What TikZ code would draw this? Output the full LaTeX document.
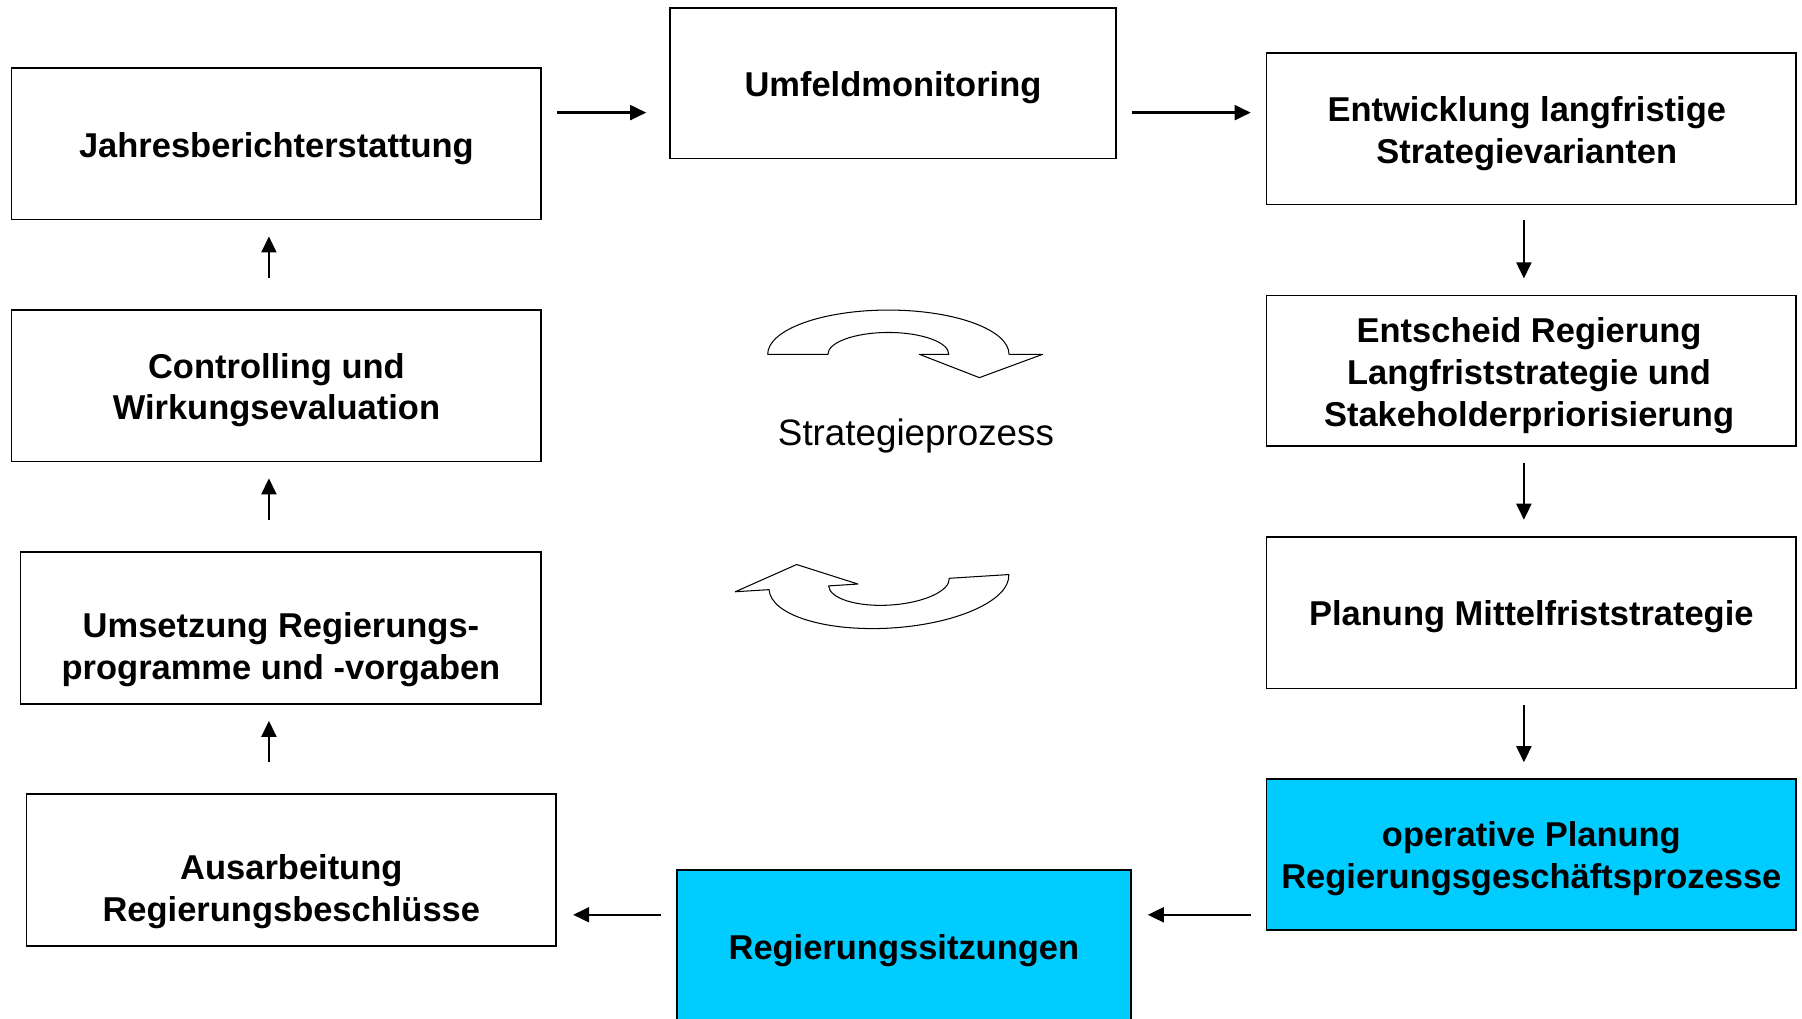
\documentclass[tikz,border=0pt]{standalone}
\usepackage{fontspec}
\setmainfont{Liberation Sans}
\usetikzlibrary{arrows.meta}
\definecolor{skyfill}{HTML}{00CCFF}
\begin{document}
\begin{tikzpicture}[x=1pt,y=-1pt,
  panel/.style={draw=black, line width=1.4pt, fill=white, inner sep=0pt,
    minimum width=461pt, minimum height=132pt},
  panelhi/.style={panel, fill=skyfill},
  lbl/.style={inner sep=0pt, align=center, font=\fontsize{30}{36.5}\selectfont\bfseries},
  arr/.style={line width=2pt, -{Triangle[length=14pt,width=13pt]}},
  swoosh/.style={draw=black, line width=0.9pt, fill=white, line join=round}]
\clip (0,0) rectangle (1568,886);

% left column
\node[panel] (jb) at (240.5,125) {};
\node[panel] (ct) at (240.5,335.5) {};
\node[panel, minimum width=453pt] (us) at (244.5,546.5) {};
\node[panel] (au) at (253.5,757) {};

% top
\node[panel, minimum width=388pt, minimum height=131pt] (um) at (777,72.5) {};

% right column
\node[panel] (ew) at (1332.5,112) {};
\node[panel, minimum height=131pt] (es) at (1332.5,322.5) {};
\node[panel] (pl) at (1332.5,533) {};
\node[panelhi, minimum height=131pt] (op) at (1332.5,743.5) {};

% bottom
\node[panelhi, minimum width=395pt] (rs) at (786.5,823) {};

% box texts
\node[lbl] (jbT) at ([yshift=-4pt]jb.center) {Jahresberichterstattung};
\node[lbl] (ctT) at ([yshift=-4pt]ct.center) {Controlling und\\Wirkungsevaluation};
\node[lbl] (usT) at ([yshift=-19pt]us.center) {Umsetzung Regierungs-\\programme und -vorgaben};
\node[lbl] (auT) at ([yshift=-19pt]au.center) {Ausarbeitung\\Regierungsbeschlüsse};
\node[lbl] (umT) at ([yshift=-4pt]um.center) {Umfeldmonitoring};
\node[lbl] (ewT) at ([xshift=-4pt,yshift=-4pt]ew.center) {Entwicklung langfristige\\Strategievarianten};
\node[lbl] (esT) at ([xshift=-2pt,yshift=-4pt]es.center) {Entscheid Regierung\\Langfriststrategie und\\Stakeholderpriorisierung};
\node[lbl] (plT) at ([yshift=-4pt]pl.center) {Planung Mittelfriststrategie};
\node[lbl] (opT) at ([yshift=-4pt]op.center) {operative Planung\\Regierungsgeschäftsprozesse};
\node[lbl] (rsT) at ([yshift=-4pt]rs.center) {Regierungssitzungen};

% flow arrows
\draw[arr, shorten <=13pt, shorten >=20pt] (jb.east |- 0,98) -- (um.west |- 0,98);
\draw[arr, shorten <=13pt, shorten >=13pt] (um.east |- 0,98) -- (ew.west |- 0,98);
\draw[arr, shorten <=13pt, shorten >=14pt] (ew.south -| 1326,0) -- (es.north -| 1326,0);
\draw[arr, shorten <=14pt, shorten >=14pt] (es.south -| 1326,0) -- (pl.north -| 1326,0);
\draw[arr, shorten <=14pt, shorten >=14pt] (pl.south -| 1326,0) -- (op.north -| 1326,0);
\draw[arr, shorten <=13pt, shorten >=14pt] (op.west |- 0,796) -- (rs.east |- 0,796);
\draw[arr, shorten <=13pt, shorten >=14pt] (rs.west |- 0,796) -- (au.east |- 0,796);
\draw[arr, shorten <=27pt, shorten >=14pt] (au.north -| 234,0) -- (us.south -| 234,0);
\draw[arr, shorten <=27pt, shorten >=14pt] (us.north -| 234,0) -- (ct.south -| 234,0);
\draw[arr, shorten <=27pt, shorten >=14pt] (ct.north -| 234,0) -- (jb.south -| 234,0);

% circular process arrows
\begin{scope}[shift={(773,308.3)}, yscale=-1]
  \draw[swoosh] (-105,0) arc[start angle=180, end angle=0, x radius=105, y radius=38.5]
    -- (134.3,0) -- (79.2,-20.3) -- (27,0) -- (52.6,0)
    arc[start angle=0, end angle=180, x radius=52.6, y radius=19] -- cycle;
\end{scope}
\begin{scope}[shift={(773.5,506.5)}, yscale=-1, rotate=176.4]
  \draw[swoosh] (-104.5,0) arc[start angle=180, end angle=0, x radius=104.5, y radius=40]
    -- (134,0) -- (79.2,-20.3) -- (27,0) -- (52.6,0)
    arc[start angle=0, end angle=180, x radius=52.6, y radius=20] -- cycle;
\end{scope}

\node[inner sep=0pt, font=\fontsize{32}{38}\selectfont] (sp) at (797,379) {Strategieprozess};
\end{tikzpicture}
\end{document}
